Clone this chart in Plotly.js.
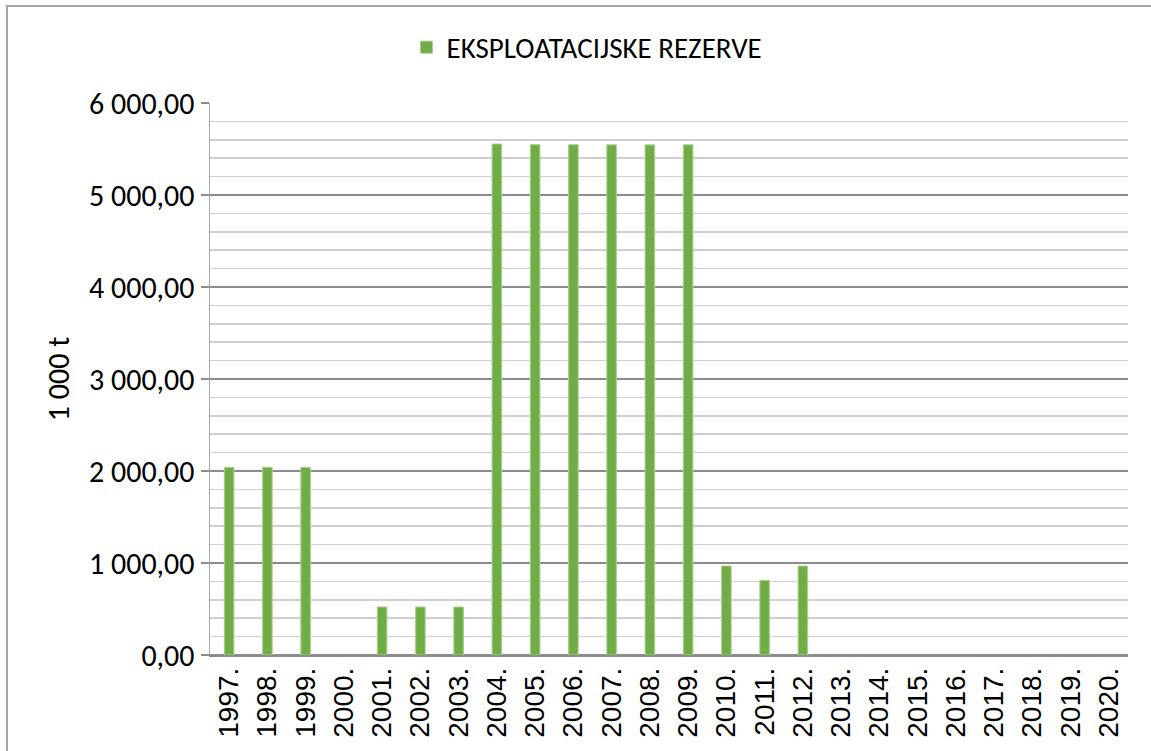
<!DOCTYPE html>
<html>
<head>
<meta charset="utf-8">
<script src="https://cdn.plot.ly/plotly-3.0.1.min.js"></script>
<style>
html,body{margin:0;padding:0;background:#fff;overflow:hidden;}
#wrap{position:relative;width:1151px;height:751px;overflow:hidden;}
#chart{width:1151px;height:751px;}
#frame{position:absolute;left:6px;top:5px;width:1200px;height:800px;border:2px solid #a6a6a6;pointer-events:none;box-sizing:border-box;}
</style>
</head>
<body>
<div id="wrap"><div id="chart"></div><div id="frame"></div></div>
<script>
const years = ["1997.","1998.","1999.","2000.","2001.","2002.","2003.","2004.","2005.","2006.","2007.","2008.","2009.","2010.","2011.","2012.","2013.","2014.","2015.","2016.","2017.","2018.","2019.","2020."];
const reserves = [2040,2040,2040,null,522,522,522,5554,5547,5547,5545,5545,5545,967,812,967,null,null,null,null,null,null,null,null];
const seriesName = "EKSPLOATACIJSKE REZERVE";
const yTitle = "1 000 t";

const font = "Carlito, Lato, sans-serif";

Plotly.newPlot('chart', [{
  type: 'bar',
  x: years,
  y: reserves,
  name: seriesName,
  marker: {color: '#70ad47', line: {color: '#a9d18e', width: 1}},
  showlegend: true
}], {
  width: 1151, height: 751,
  margin: {l: 210, r: 23, t: 103, b: 96},
  paper_bgcolor: '#fff', plot_bgcolor: '#fff',
  separators: ', ',
  bargap: 0.75,
  showlegend: true,
  legend: {
    orientation: 'h', xref: 'container', yref: 'container',
    x: 0.51, xanchor: 'center', y: 0.937, yanchor: 'middle',
    font: {family: font, size: 29, color: '#000'},
    itemwidth: 30
  },
  xaxis: {
    type: 'category',
    tickangle: -90,
    tickfont: {family: "'Liberation Sans', Arial, sans-serif", size: 28, color: '#000'},
    showline: true, linecolor: '#8c8c8c', linewidth: 1.5,
    ticks: '', showgrid: false, zeroline: false,
    fixedrange: true
  },
  yaxis: {
    range: [0, 6000],
    dtick: 1000,
    tickformat: ',.2f',
    tickfont: {family: font, size: 30, color: '#000'},
    showline: true, linecolor: '#a6a6a6', linewidth: 1.5,
    ticks: 'outside', ticklen: 8, tickcolor: '#8c8c8c', tickwidth: 1.5,
    showgrid: true, gridcolor: '#8c8c8c', gridwidth: 1.5,
    zeroline: true, zerolinecolor: '#8c8c8c', zerolinewidth: 1.5,
    minor: {dtick: 200, showgrid: true, gridcolor: '#cfcfcf', gridwidth: 1.5, ticks: ''},
    title: {text: yTitle, font: {family: font, size: 30, color: '#000'}, standoff: 10},
    fixedrange: true
  }
}, {displayModeBar: false, staticPlot: true});
</script>
</body>
</html>
